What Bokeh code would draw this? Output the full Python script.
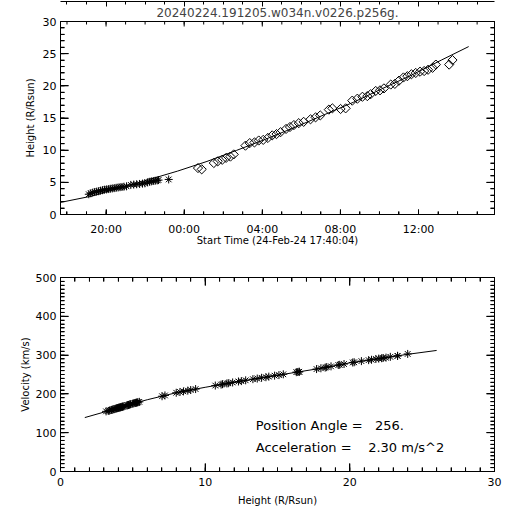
import math
from bokeh.plotting import figure
from bokeh.layouts import gridplot
from bokeh.models import (Range1d, LinearAxis, FixedTicker, ColumnDataSource, Segment,
                          CustomJSTickFormatter, Label, Title)
from bokeh.embed import file_html
from bokeh.resources import INLINE

# ---------------- data ----------------
title_text = "20240224.191205.w034n.v0226.p256g."
start_label = "Start Time (24-Feb-24 17:40:04)"
start_sec_of_day = 17 * 3600 + 40 * 60 + 4   # 17:40:04

# C2 measurements (asterisks): hours since start time, height (R/Rsun)
c2_t = [1.45, 1.55, 1.65, 1.75, 1.85, 1.95, 2.05, 2.15, 2.25, 2.35, 2.45, 2.55,
        2.65, 2.75, 2.85, 2.95, 3.05, 3.15, 3.25, 3.38, 3.60, 3.75, 3.90, 4.05,
        4.20, 4.32, 4.45, 4.55, 4.65, 4.75, 4.85, 4.95, 5.02, 5.54]
c2_h = [3.15, 3.30, 3.40, 3.50, 3.55, 3.62, 3.70, 3.78, 3.85, 3.90, 3.95, 4.00,
        4.05, 4.10, 4.15, 4.20, 4.25, 4.28, 4.32, 4.38, 4.60, 4.65, 4.70, 4.75,
        4.80, 4.85, 5.00, 5.08, 5.15, 5.20, 5.25, 5.30, 5.35, 5.45]

# C3 measurements (diamonds)
c3_t = [7.04, 7.23, 7.85, 8.05, 8.28, 8.48, 8.70, 8.87, 9.47, 9.69, 9.93, 10.15,
        10.38, 10.62, 10.84, 11.06, 11.27, 11.55, 11.75, 11.95, 12.20, 12.45, 12.80,
        13.06, 13.30, 13.74, 13.92, 14.34, 14.60, 14.94, 15.20, 15.46, 15.71, 15.88,
        16.14, 16.36, 16.56, 16.91, 17.12, 17.33, 17.56, 17.76, 17.97, 18.19, 18.41,
        18.62, 18.82, 19.05, 19.22, 19.90, 20.07]
c3_h = [7.22, 7.02, 8.00, 8.26, 8.50, 8.80, 9.00, 9.34, 10.70, 11.10, 11.20, 11.50,
        11.60, 11.90, 12.30, 12.50, 12.80, 13.30, 13.60, 13.90, 14.20, 14.40, 14.80,
        15.10, 15.40, 16.30, 16.50, 16.40, 16.50, 17.70, 18.00, 18.30, 18.40, 18.70,
        19.20, 19.30, 19.60, 20.20, 20.30, 20.80, 21.30, 21.50, 21.80, 22.00, 22.20,
        22.30, 22.50, 22.80, 23.30, 23.30, 24.00]

# fitted height-time curve
fit_t = [0.0, 1.5, 3.0, 4.5, 6.0, 7.5, 9.0, 10.5, 12.0, 13.5, 15.0, 16.5, 18.0, 19.5, 20.9]
fit_h = [1.88, 2.80, 4.10, 5.40, 6.75, 8.25, 9.95, 11.70, 13.55, 15.50, 17.45, 19.60, 21.70, 24.00, 26.10]

# velocity at each measurement (km/s), C2 then C3
c2_v = [155, 156, 157, 158.5, 159, 160, 160.5, 161.5, 162.5, 163, 163.5, 164,
        164.5, 165, 165.5, 166, 167, 167, 167.5, 168, 170.5, 171, 171.5, 172,
        173, 173.5, 175, 176, 176.5, 177, 177.5, 178, 178.5, 179.5]
c3_v = [196, 194, 203, 205, 206.5, 208.5, 210, 212.5, 221.5, 224, 225, 227,
        227.5, 229.5, 232, 233, 235, 238, 239.5, 241.5, 243, 244.5, 247,
        248.5, 250.5, 256, 257, 256.5, 257, 264, 266, 268, 269, 271,
        274.5, 275, 277, 281, 281.5, 284.5, 287, 288, 290, 291, 292,
        292.5, 293.5, 295.5, 298, 298, 303]

# fitted velocity-height curve
vfit_h = [1.68, 3, 4, 5, 6, 7, 8, 10, 12, 14, 16, 18, 20, 22, 24, 26]
vfit_v = [139, 153, 164, 175, 185, 194, 203, 217, 230, 242, 254, 266, 280, 291, 302, 312]

pos_angle_text = "Position Angle =\u00a0\u00a0 256."
accel_text = "Acceleration =\u00a0\u00a0\u00a0 2.30 m/s^2"

FONT = "DejaVu Sans"
x1_max = 80000 / 3600.0  # 80000 s after start

W, H1, H2 = 512, 258, 254
BL, BR = 60, 18
B1T, B1B = 21, 44
B2T, B2B = 19, 41
FW = W - BL - BR
FH1 = H1 - B1T - B1B
FH2 = H2 - B2T - B2B

blank = CustomJSTickFormatter(code="return ''")


def style_axis(ax, major_in, minor_in, size="11px"):
    ax.major_tick_in = major_in
    ax.major_tick_out = 0
    ax.minor_tick_in = minor_in
    ax.minor_tick_out = 0
    ax.axis_line_color = "black"
    ax.major_tick_line_color = "black"
    ax.minor_tick_line_color = "black"
    ax.major_label_text_font = FONT
    ax.major_label_text_font_size = size
    ax.major_label_text_color = "black"
    ax.axis_label_text_font = FONT
    ax.axis_label_text_font_size = "10px"
    ax.axis_label_text_font_style = "normal"
    ax.axis_label_text_color = "black"


def inner_ticks(p, vals, horizontal, lo, hi, length):
    """Tick marks drawn inward from both opposite frame edges."""
    n = len(vals)
    pos = list(vals) * 2
    start = [lo] * n + [hi] * n
    end = [lo + length] * n + [hi - length] * n
    if horizontal:
        xa, xb, ya, yb = pos, pos, start, end
    else:
        xa, xb, ya, yb = start, end, pos, pos
    src = ColumnDataSource(dict(xa=xa, xb=xb, ya=ya, yb=yb))
    p.add_glyph(src, Segment(x0="xa", y0="ya", x1="xb", y1="yb",
                             line_color="black", line_width=1))


def framed_axes(p, side_a, side_b, ticker_major, ticker_minor, major_in, minor_in, **kw):
    a = LinearAxis(ticker=FixedTicker(ticks=ticker_major, minor_ticks=ticker_minor), **kw)
    style_axis(a, major_in, minor_in)
    p.add_layout(a, side_a)
    b = LinearAxis(ticker=FixedTicker(ticks=ticker_major, minor_ticks=ticker_minor),
                   formatter=blank)
    style_axis(b, major_in, minor_in)
    b.major_label_standoff = 0
    p.add_layout(b, side_b)
    return a


# ---------------- top plot ----------------
p1 = figure(width=W, height=H1, x_range=Range1d(0, x1_max), y_range=Range1d(0, 30),
            x_axis_type=None, y_axis_type=None, output_backend="svg",
            toolbar_location=None, min_border_left=BL, min_border_right=BR,
            min_border_top=B1T, min_border_bottom=B1B)
p1.outline_line_color = "black"
p1.add_layout(Title(text=title_text, align="center", text_font=FONT, text_font_size="12px",
                    text_font_style="normal", standoff=4, offset=0), "above")

hour_ticks = [(k * 3600 - start_sec_of_day) / 3600.0 for k in range(18, 41)]
major_ticks = [h for i, h in enumerate(hour_ticks) if (18 + i) % 4 == 0]
time_fmt = CustomJSTickFormatter(args=dict(s0=start_sec_of_day), code="""
    const tot = Math.round(s0 + tick * 3600);
    const h = Math.floor(tot / 3600) % 24;
    const m = Math.floor((tot % 3600) / 60);
    return (h < 10 ? '0' : '') + h + ':' + (m < 10 ? '0' : '') + m;
""")

xb = framed_axes(p1, "below", "above", major_ticks, hour_ticks, 5, 3,
                 formatter=time_fmt, axis_label=start_label)
xb.major_label_standoff = 8
xb.axis_label_standoff = -4

h_major = list(range(0, 31, 5))
h_minor = list(range(0, 31, 1))
yl = framed_axes(p1, "left", "right", h_major, h_minor, 8, 4, axis_label="Height (R/Rsun)")
yl.major_label_standoff = 4
yl.axis_label_standoff = 4

dy1 = 30.0 / FH1
dx1 = x1_max / FW
inner_ticks(p1, hour_ticks, True, 0, 30, 3 * dy1)
inner_ticks(p1, major_ticks, True, 0, 30, 5 * dy1)
inner_ticks(p1, h_minor, False, 0, x1_max, 4 * dx1)
inner_ticks(p1, h_major, False, 0, x1_max, 8 * dx1)

p1.line(x=fit_t, y=fit_h, line_color="black", line_width=1)
p1.scatter(x=c2_t, y=c2_h, marker="asterisk", size=8, line_color="black", line_width=1)
p1.scatter(x=c3_t, y=c3_h, marker="square", angle=math.pi / 4, size=6.5,
           fill_color=None, line_color="black", line_width=1)

# ---------------- bottom plot ----------------
p2 = figure(width=W, height=H2, x_range=Range1d(0, 30), y_range=Range1d(0, 500),
            x_axis_type=None, y_axis_type=None, output_backend="svg",
            toolbar_location=None, min_border_left=BL, min_border_right=BR,
            min_border_top=B2T, min_border_bottom=B2B)
p2.outline_line_color = "black"

r_major = [0, 10, 20, 30]
r_minor = list(range(0, 31, 1))
v_major = list(range(0, 501, 100))
v_minor = list(range(0, 501, 10))

bx = framed_axes(p2, "below", "above", r_major, r_minor, 8, 4, axis_label="Height (R/Rsun)")
bx.major_label_standoff = 6
bx.axis_label_standoff = 6
by = framed_axes(p2, "left", "right", v_major, v_minor, 8, 4, axis_label="Velocity (km/s)")
by.major_label_standoff = 4
by.axis_label_standoff = 2

dy2 = 500.0 / FH2
dx2 = 30.0 / FW
inner_ticks(p2, r_minor, True, 0, 500, 4 * dy2)
inner_ticks(p2, r_major, True, 0, 500, 8 * dy2)
inner_ticks(p2, v_minor, False, 0, 30, 4 * dx2)
inner_ticks(p2, v_major, False, 0, 30, 8 * dx2)

p2.line(x=vfit_h, y=vfit_v, line_color="black", line_width=1)
p2.scatter(x=c2_h + c3_h, y=c2_v + c3_v, marker="asterisk", size=8,
           line_color="black", line_width=1)

p2.add_layout(Label(x=13.5, y=119, text=pos_angle_text, text_font=FONT,
                    text_font_size="13px", text_baseline="middle", text_color="black"))
p2.add_layout(Label(x=13.5, y=62, text=accel_text, text_font=FONT,
                    text_font_size="13px", text_baseline="middle", text_color="black"))

layout = gridplot([[p1], [p2]], toolbar_location=None)
with open("out.html", "w") as f:
    f.write(file_html(layout, INLINE))
